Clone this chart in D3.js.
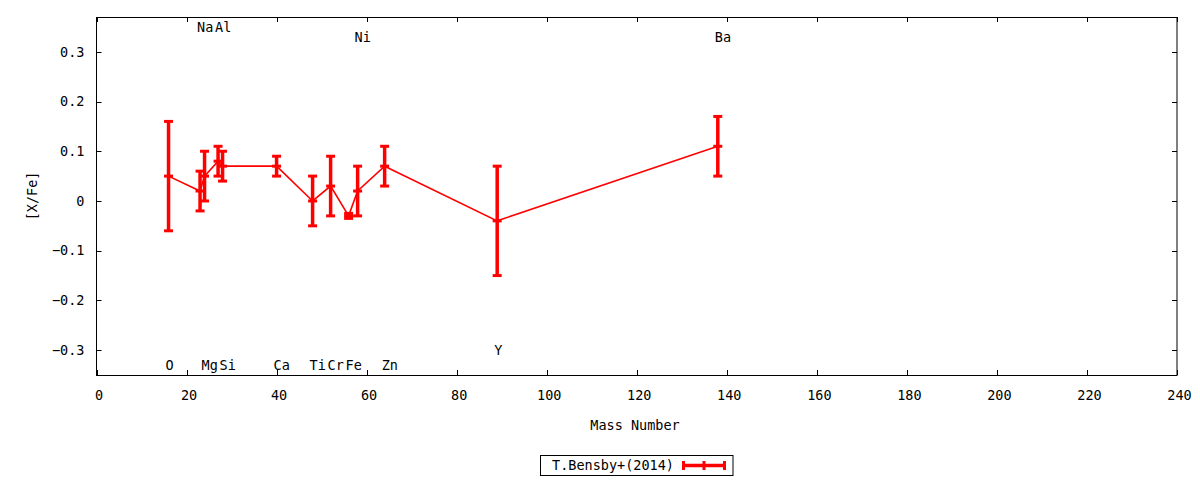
<!DOCTYPE html>
<html>
<head>
<meta charset="utf-8">
<script src="https://cdn.jsdelivr.net/npm/d3@7"></script>
<style>
  html, body { margin: 0; padding: 0; background: #fff; }
  svg { display: block; }
  text { font-family: "DejaVu Sans Mono", monospace; font-size: 13.5px; fill: #000; }
</style>
</head>
<body>
<svg id="chart" width="1200" height="480"></svg>
<script>
// ---- data ----
const elements    = ["O", "Na", "Mg", "Al", "Si", "Ca", "Ti", "Cr", "Fe", "Ni", "Zn", "Y", "Ba"];
const massNumbers = [16, 23, 24, 27, 28, 40, 48, 52, 56, 58, 64, 89, 138];
const values      = [0.05, 0.02, 0.05, 0.08, 0.07, 0.07, 0.00, 0.03, -0.03, 0.02, 0.07, -0.04, 0.11];
const errors      = [0.11, 0.04, 0.05, 0.03, 0.03, 0.02, 0.05, 0.06, 0.005, 0.05, 0.04, 0.11, 0.06];
const labelY      = [-0.33, 0.35, -0.33, 0.35, -0.33, -0.33, -0.33, -0.33, -0.33, 0.33, -0.33, -0.30, 0.33];
const xTicks = [0, 20, 40, 60, 80, 100, 120, 140, 160, 180, 200, 220, 240];
const yTicks = [-0.3, -0.2, -0.1, 0, 0.1, 0.2, 0.3];
const seriesName = "T.Bensby+(2014)";
const xTitle = "Mass Number";
const yTitle = "[X/Fe]";

(function () {
// ---- layout ----
const svg = d3.select("#chart");
const pL = 96.5, pR = 1177, pT = 17, pB = 375;
const x = d3.scaleLinear().domain([0, 240]).range([pL, pR]);
const y = d3.scaleLinear().domain([-0.35, 0.37]).range([pB, pT]);
const red = "#ff0000";
const tickLen = 5;

const data = elements.map((e, i) => ({ el: e, a: massNumbers[i], v: values[i], err: errors[i], ly: labelY[i] }));

// frame
svg.append("rect").attr("x", pL).attr("y", pT + 0.5)
  .attr("width", pR - pL).attr("height", pB - pT)
  .attr("fill", "none").attr("stroke", "#000").attr("stroke-width", 1);

// x ticks (bottom + mirrored top)
const gx = svg.append("g");
xTicks.forEach(t => {
  const px = Math.round(x(t)) + 0.5;
  gx.append("line").attr("x1", px).attr("x2", px).attr("y1", pB).attr("y2", pB - tickLen).attr("stroke", "#000");
  gx.append("line").attr("x1", px).attr("x2", px).attr("y1", pT).attr("y2", pT + tickLen).attr("stroke", "#000");
  gx.append("text").attr("x", x(t) + 2.5).attr("y", 395).attr("dy", "0.35em")
    .attr("text-anchor", "middle").text(d3.format("d")(t));
});

// y ticks (left + mirrored right)
const gy = svg.append("g");
yTicks.forEach(t => {
  const py = Math.round(y(t)) + 0.5;
  gy.append("line").attr("x1", pL).attr("x2", pL + tickLen).attr("y1", py).attr("y2", py).attr("stroke", "#000");
  gy.append("line").attr("x1", pR).attr("x2", pR - tickLen).attr("y1", py).attr("y2", py).attr("stroke", "#000");
  gy.append("text").attr("x", 84.5).attr("y", y(t)).attr("dy", "0.35em")
    .attr("text-anchor", "end").text(Math.abs(t) < 1e-9 ? "0" : d3.format(".1f")(t));
});

// axis titles
svg.append("text").attr("x", 635).attr("y", 425).attr("dy", "0.35em")
  .attr("text-anchor", "middle").text(xTitle);
svg.append("text").attr("transform", `translate(32,${y(0) - 5}) rotate(-90)`)
  .attr("dy", "0.35em").attr("text-anchor", "middle").text(yTitle);

// connecting line
const line = d3.line().x(d => x(d.a)).y(d => y(d.v));
svg.append("path").datum(data).attr("d", line)
  .attr("fill", "none").attr("stroke", red).attr("stroke-width", 1.6);

// error bars
const gErr = svg.append("g").attr("stroke", red);
data.forEach(d => {
  const px = x(d.a);
  gErr.append("line").attr("x1", px).attr("x2", px)
    .attr("y1", y(d.v + d.err)).attr("y2", y(d.v - d.err)).attr("stroke-width", 3.5);
  [d.v + d.err, d.v - d.err, d.v].forEach(val => {
    gErr.append("line").attr("x1", px - 4.5).attr("x2", px + 4.5)
      .attr("y1", y(val)).attr("y2", y(val)).attr("stroke-width", 3);
  });
});

// element labels
svg.append("g").selectAll("text").data(data).join("text")
  .attr("x", d => x(d.a) - 3).attr("y", d => y(d.ly)).attr("dy", "0.35em")
  .attr("text-anchor", "start").text(d => d.el);

// legend
const lg = svg.append("g");
lg.append("rect").attr("x", 540.5).attr("y", 455.5).attr("width", 192.5).attr("height", 20)
  .attr("fill", "#fff").attr("stroke", "#000");
lg.append("text").attr("x", 674).attr("y", 465).attr("dy", "0.35em")
  .attr("text-anchor", "end").text(seriesName);
lg.append("line").attr("x1", 682).attr("x2", 726).attr("y1", 465.5).attr("y2", 465.5)
  .attr("stroke", red).attr("stroke-width", 3.5);
[683.5, 704, 724.5].forEach(px => {
  lg.append("line").attr("x1", px).attr("x2", px).attr("y1", 461).attr("y2", 470)
    .attr("stroke", red).attr("stroke-width", 3);
});
})();
</script>
</body>
</html>
